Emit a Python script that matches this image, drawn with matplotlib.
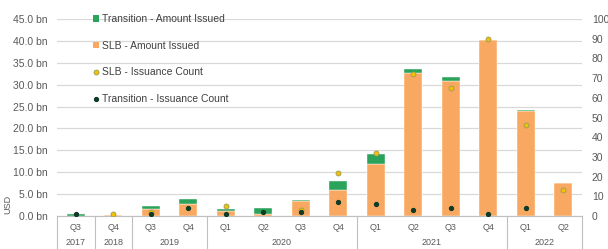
import numpy as np
import matplotlib
matplotlib.use("Agg")
import matplotlib.pyplot as plt
from matplotlib.patches import Patch
from matplotlib.lines import Line2D

# data
quarters = ["Q3", "Q4", "Q3", "Q4", "Q1", "Q2", "Q3", "Q4",
            "Q1", "Q2", "Q3", "Q4", "Q1", "Q2"]
years = ["2017", "2018", "2019", "2020", "2021", "2022"]
year_sizes = [1, 1, 2, 4, 4, 2]

slb_amount = [0.0, 0.3, 1.7, 2.8, 1.1, 0.5, 3.4, 6.0,
              11.9, 32.6, 30.8, 40.3, 23.9, 7.5]
transition_amount = [0.5, 0.0, 0.5, 1.0, 0.6, 1.3, 0.2, 1.9,
                     2.2, 1.0, 1.0, 0.0, 0.4, 0.0]
slb_count = [np.nan, 1, 2, np.nan, 5, np.nan, 3, 22,
             32, 72, 65, 90, 46, 13]
transition_count = [1, np.nan, 1, 4, 1, 2, 2, 7,
                    6, 3, 4, 1, 4, np.nan]

orange = "#F9A862"
green = "#2BA35A"
yellow = "#F2C200"
dark = "#0E3B25"
grey = "#595959"

plt.rcParams["font.family"] = ["Liberation Sans", "DejaVu Sans"]
plt.rcParams["font.size"] = 7.5

fig = plt.figure(figsize=(6.08, 2.49), dpi=100)
ax = fig.add_axes([57 / 608, 33 / 249, 525 / 608, 197 / 249])
ax2 = ax.twinx()

x = np.arange(len(quarters))
ax.bar(x, slb_amount, width=0.49, color=orange, edgecolor="white", linewidth=0.3, zorder=2)
ax.bar(x, transition_amount, width=0.49, bottom=slb_amount, color=green,
       edgecolor="white", linewidth=0.3, zorder=2)

ax2.plot(x, slb_count, ls="none", marker="o", ms=3.6, mfc=yellow, mec="#9a9a60", mew=0.6, zorder=3)
ax2.plot(x, transition_count, ls="none", marker="o", ms=2.8, mfc=dark, mec=dark, zorder=4)

ax.set_xlim(-0.5, len(quarters) - 0.5)
ax.set_ylim(0, 45)
ax.set_yticks(np.arange(0, 46, 5))
ax.set_yticklabels([f"{v:.1f} bn" for v in np.arange(0, 46, 5)])
ax2.set_ylim(0, 100)
ax2.set_yticks(np.arange(0, 101, 10))

ax.grid(axis="y", color="#D9D9D9", linewidth=0.9, zorder=0)
ax.set_axisbelow(True)
for a in (ax, ax2):
    for s in ["top", "left", "right"]:
        a.spines[s].set_visible(False)
    a.tick_params(axis="y", length=0, colors=grey, labelsize=7.5)
ax.spines["bottom"].set_color("#BFBFBF")
ax2.spines["bottom"].set_visible(False)
ax.tick_params(axis="y", pad=7)
ax2.tick_params(axis="y", pad=7)
ax.set_xticks([])

ax.set_ylabel("USD", color=grey, fontsize=6.5, labelpad=2)
ax.yaxis.set_label_coords(-0.085, 0.06)

# two-level category axis
tr = ax.get_xaxis_transform()
for i, q in enumerate(quarters):
    ax.text(i, -0.056, q, transform=tr, ha="center", va="center", color=grey, fontsize=6.5)
start = 0
bounds = [-0.5]
for yr, n in zip(years, year_sizes):
    mid = start + (n - 1) / 2
    ax.text(mid, -0.137, yr, transform=tr, ha="center", va="center", color=grey, fontsize=6.5)
    start += n
    bounds.append(start - 0.5)
for b in bounds:
    ax.plot([b, b], [0, -0.17], transform=tr, color="#BFBFBF", lw=0.8, clip_on=False)

handles = [
    Patch(facecolor=green, label="Transition - Amount Issued"),
    Patch(facecolor=orange, label="SLB - Amount Issued"),
    Line2D([], [], ls="none", marker="o", ms=3.6, mfc=yellow, mec="#9a9a60", mew=0.6,
           label="SLB - Issuance Count"),
    Line2D([], [], ls="none", marker="o", ms=2.8, mfc=dark, mec=dark,
           label="Transition - Issuance Count"),
]
leg = ax.legend(handles=handles, loc="upper left", bbox_to_anchor=(93 / 608, 1 - 14 / 249),
                bbox_transform=fig.transFigure, frameon=False, handlelength=0.6,
                handleheight=0.6, handletextpad=0.3, labelspacing=1.6,
                borderpad=0, borderaxespad=0, fontsize=7.5)
for t in leg.get_texts():
    t.set_color("#404040")

fig.savefig("out.png", dpi=100)
